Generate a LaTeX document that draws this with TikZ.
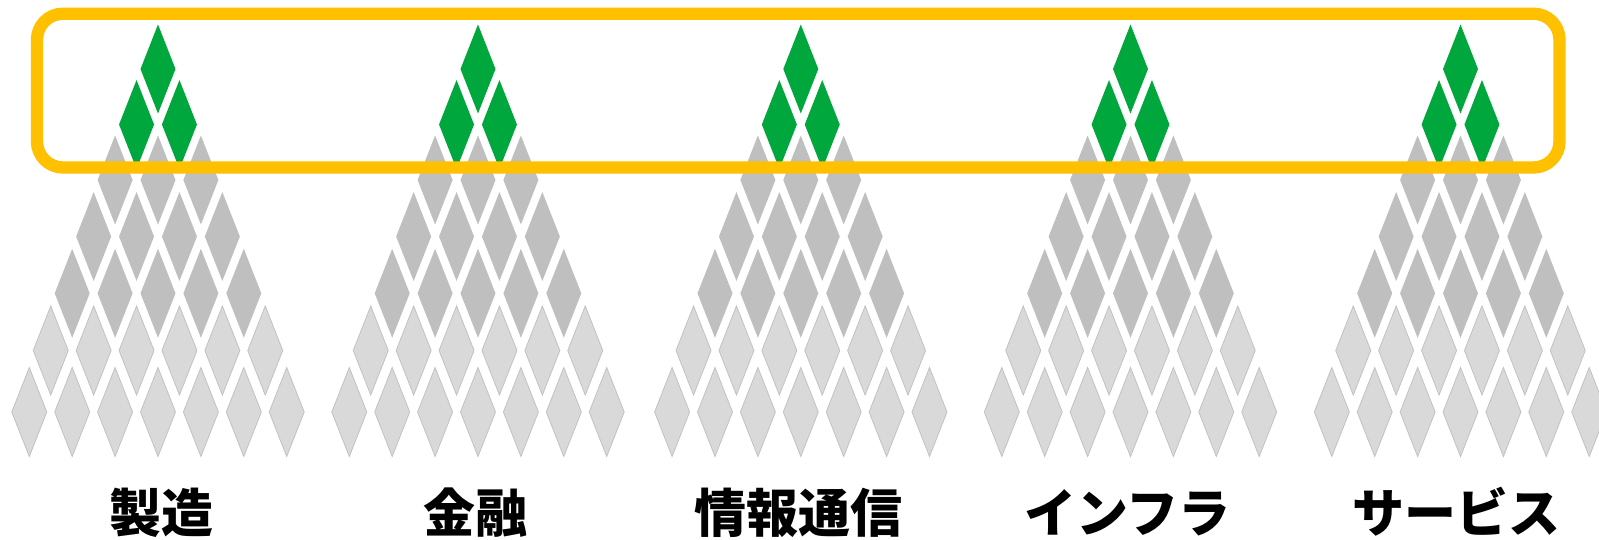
\documentclass[tikz,border=0pt]{standalone}
\usepackage{fontspec}
\newfontfamily\jp{Noto Sans CJK JP}
\definecolor{dgreen}{HTML}{00A73C}
\definecolor{dgray}{HTML}{BFBFBF}
\definecolor{lgray}{HTML}{D9D9D9}
\definecolor{lborder}{HTML}{C2C2C2}
\definecolor{frameyellow}{HTML}{FFC000}
\tikzset{
  greendia/.style={fill=dgreen},
  darkdia/.style={fill=dgray},
  lightdia/.style={fill=lgray, draw=lborder, line width=0.8pt, line join=miter},
  framebox/.style={draw=frameyellow, line width=12.3pt, rounded corners=26pt, inner sep=0pt},
  labeltext/.style={anchor=base, inner sep=0pt, font=\jp\bfseries\fontsize{52}{60}\selectfont}
}
\begin{document}
\begin{tikzpicture}[x=1pt,y=-1pt]
\useasboundingbox (0,0) rectangle (1599,539);
\fill[white] (0,0) rectangle (1599,539);
% pyramids
\foreach \cx/\pid in {158/a,478/b,800.8/c,1130.5/d,1460.5/e}{
  \foreach \r/\ry/\sty in {1/69/greendia,2/124.5/greendia,3/180/darkdia,4/236.5/darkdia,5/293.3/darkdia,6/350.5/lightdia,7/412/lightdia}{
    \foreach \k in {1,...,\r}{
      \pgfmathsetmacro{\px}{\cx+(\k-(\r+1)/2)*42.9}
      \path[\sty] (\px,\ry) +(0,-44.5) -- +(17.5,0) -- +(0,44.5) -- +(-17.5,0) -- cycle;
    }
  }
}
% frame
\node[framebox, minimum width=1522.5pt, minimum height=153.8pt] (frame) at (798.25,90.6) {};
% labels
\node[labeltext] (l1) at (161.5,532) {製造};
\node[labeltext] (l2) at (475,532) {金融};
\node[labeltext] (l3) at (798.3,532) {情報通信};
\node[labeltext] (l4) at (1127.5,532) {インフラ};
\node[labeltext] (l5) at (1456,532) {サービス};
\end{tikzpicture}
\end{document}
